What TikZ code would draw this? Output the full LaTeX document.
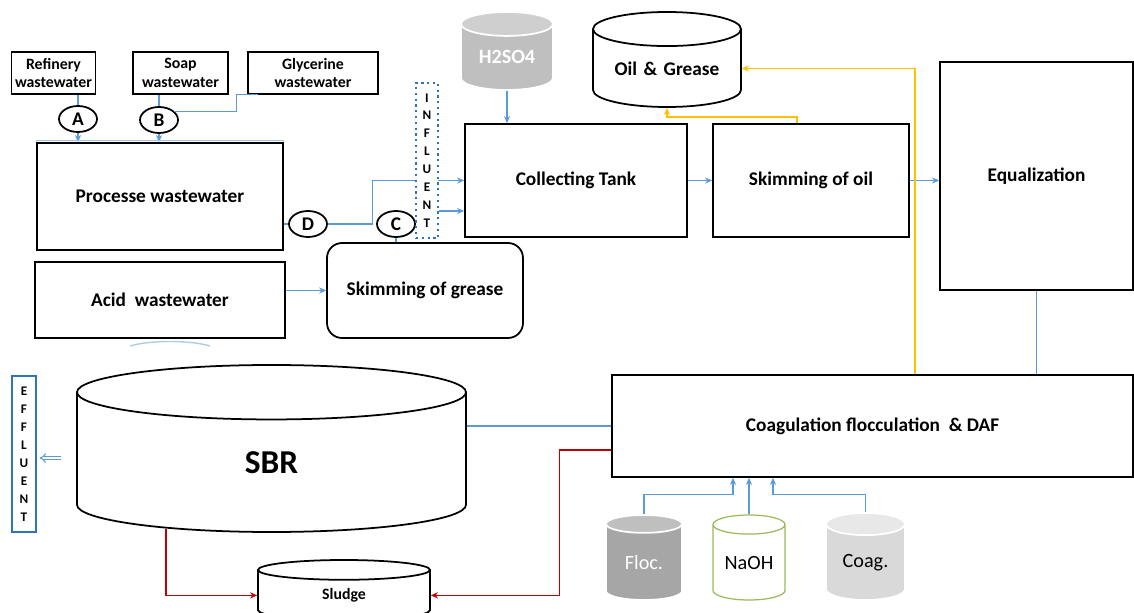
\documentclass[tikz,border=0pt]{standalone}
\usepackage{fontspec}
\setmainfont{Carlito}
\usetikzlibrary{shapes.geometric}
\usetikzlibrary{arrows.meta}

\definecolor{pipeblue}{HTML}{5B9BD5}
\definecolor{oilyellow}{HTML}{FFC000}
\definecolor{sludgered}{HTML}{C00000}
\definecolor{boxblue}{HTML}{2E75B6}
\definecolor{naohgreen}{HTML}{9BBB59}

\begin{document}
\begin{tikzpicture}[x=0.2mm,y=-0.2mm,line width=1pt,
>={Stealth[length=4pt,width=3.5pt]},
unitblock/.style={draw,rectangle,fill=white,inner sep=2pt,font=\bfseries\fontsize{11}{13}\selectfont},
srcblock/.style={draw,rectangle,inner sep=2pt,align=center,minimum height=8.4mm,font=\bfseries\fontsize{9}{10.5}\selectfont},
tag/.style={ellipse,draw,fill=white,minimum width=7.6mm,minimum height=5.2mm,inner sep=0pt,font=\bfseries\fontsize{11}{13}\selectfont},
vertlabel/.style={rectangle,fill=white,inner sep=0pt,align=center,font=\bfseries\fontsize{7.5}{10.2}\selectfont},
tank/.style={cylinder,shape border rotate=90,draw,fill=white,inner sep=0pt,align=center,anchor=shape center},
graytank/.style={tank,draw=white,fill=none,cylinder uses custom fill},
pipe/.style={draw=pipeblue,line width=0.6pt},
oilpipe/.style={draw=oilyellow,line width=0.8pt},
sludgepipe/.style={draw=sludgered,line width=0.7pt}]

\clip (0,0) rectangle (1134,613);

% sources
\draw (53.5,73) node[srcblock,minimum width=16.6mm] (RW) {Refinery\\wastewater};
\draw (180.5,73) node[srcblock,minimum width=19mm] (SW) {Soap\\wastewater};
\draw (313,73) node[srcblock,minimum width=26mm] (GW) {Glycerine\\wastewater};
\draw (78,119) node[tag] (A) {A};
\draw (159,120) node[tag] (B) {B};
\draw (160,196.5) node[unitblock,minimum width=49.2mm,minimum height=21.4mm] (PW) {Processe wastewater};
\draw (160,300) node[unitblock,minimum width=50mm,minimum height=15.2mm] (AW) {Acid\ \ wastewater};
\draw (425,290.5) node[unitblock,rounded corners=3mm,minimum width=39.2mm,minimum height=19mm] (SG) {Skimming of grease};
\draw (308,224) node[tag] (D) {D};
\draw (396,224) node[tag] (C) {C};

% main line
\draw (576,180.5) node[unitblock,minimum width=44.4mm,minimum height=22.6mm] (CT) {Collecting Tank};
\draw (811,180.5) node[unitblock,minimum width=39.2mm,minimum height=22.6mm] (SO) {Skimming of oil};
\draw (1036.5,176) node[unitblock,minimum width=38.6mm,minimum height=45.6mm] (EQ) {Equalization};
\draw (872.5,426) node[unitblock,minimum width=104.2mm,minimum height=20.4mm] (CF) {Coagulation flocculation\ \ \& DAF};

% tanks
\draw (507,51) node[graytank,cylinder body fill=gray!50,cylinder end fill=gray!38,text width=18.4mm,minimum height=15.6mm,aspect=0.26,text=white,font=\bfseries\fontsize{11.5}{13}\selectfont] (H) {H2SO4};
\draw (667,59.5) node[tank,text width=29.6mm,minimum height=19mm,aspect=0.23,font=\bfseries\fontsize{11}{13}\selectfont] (OG) {Oil \& Grease};
\draw (271.5,448.5) node[tank,text width=77.8mm,minimum height=33.4mm,aspect=0.14,font=\bfseries\fontsize{19}{22}\selectfont] (SBR) {SBR};
\draw (344,590) node[tank,text width=34.4mm,minimum height=12mm,aspect=0.115,font=\bfseries\fontsize{9}{11}\selectfont] (SL) {Sludge};
\draw (644,557.5) node[graytank,cylinder body fill=gray!70,cylinder end fill=gray!50,text width=15.2mm,minimum height=17mm,aspect=0.235,text=white,font=\fontsize{11.5}{13}\selectfont] (FL) {Floc.};
\draw (749,557.5) node[tank,draw=naohgreen,line width=0.7pt,text width=14.4mm,minimum height=17mm,aspect=0.265,font=\fontsize{11.5}{13}\selectfont] (NA) {NaOH};
\draw (865.5,556.5) node[graytank,cylinder body fill=gray!30,cylinder end fill=gray!18,text width=15.8mm,minimum height=17.4mm,aspect=0.28,font=\fontsize{11.5}{13}\selectfont] (CO) {Coag.};

% pipes
\draw[pipe] (A |- RW.south) -- (A.north);
\draw[pipe,->] (A.south) -- (A |- PW.north);
\draw[pipe] (B |- SW.south) -- (B.north);
\draw[pipe,->] (B.south) -- (B |- PW.north);
\draw[pipe] ([xshift=2.2mm]GW.south west) -- ++(-22,0) |- (B.30);
\draw[pipe,draw=pipeblue!60] ([yshift=0.4mm]PW.north west) -- ([yshift=0.4mm]PW.north east);
\draw[pipeblue!50,line width=0.8pt] (130,346) .. controls (150,340) and (190,340) .. (210,346);
\draw[pipe] (PW.east |- D) -- (D.west);
\draw[pipe,->] (D.east) -- ++(45,0) |- (CT.west);
\draw[pipe] (C.south) -- (C |- SG.north);
\draw[pipe,->] (SG.west -| AW.east) -- (SG.west);

\draw (427,160.5) node[vertlabel,draw=boxblue,dotted,line width=1.3pt,minimum width=4.4mm,minimum height=31mm] (INF) {I\\N\\F\\L\\U\\E\\N\\T};
\draw[pipe,->] ([yshift=-10.1mm]INF.east) -- ([yshift=-10.1mm]INF.east -| CT.west);

\draw[pipe,->] (H.south) -- (H.south |- CT.north);
\draw[pipe,->] (CT.east) -- (SO.west);
\draw[pipe,->] (SO.east) -- (SO.east -| EQ.west);
\draw[oilpipe,->] ([xshift=-2.8mm]SO.north) -- ++(0,-6) -| (OG.south);
\draw[oilpipe,->] ([xshift=8.5mm]CF.north) |- (OG.east);
\draw[pipe] (EQ.south) -- (EQ.south |- CF.north);
\draw[pipe] (CF.west) -- (CF.west -| SBR.east);
\draw[sludgepipe,->] ([yshift=-4.8mm]CF.west) -- ++(-52,0) |- (SL.east);
\draw[sludgepipe,->] ([xshift=-21.1mm,yshift=0.8mm]SBR.south) |- (SL.west);

\draw (24,454) node[vertlabel,draw=boxblue,line width=1.2pt,minimum width=4.8mm,minimum height=31.2mm] (EFF) {E\\F\\F\\L\\U\\E\\N\\T};
\draw[pipe,double,double distance=1.2pt,-{Implies}] ([xshift=-3mm,yshift=0.9mm]SBR.west) -- ([xshift=0.5mm,yshift=0.9mm]SBR.west -| EFF.east);

\draw[pipe,->] (FL.north) -- ++(0,-20) -| ([xshift=-3.2mm]NA.north |- CF.south);
\draw[pipe,->] (NA.north) -- (NA.north |- CF.south);
\draw[pipe,->] (CO.north) -- ++(0,-18) -| ([xshift=4.8mm]NA.north |- CF.south);

\end{tikzpicture}
\end{document}
